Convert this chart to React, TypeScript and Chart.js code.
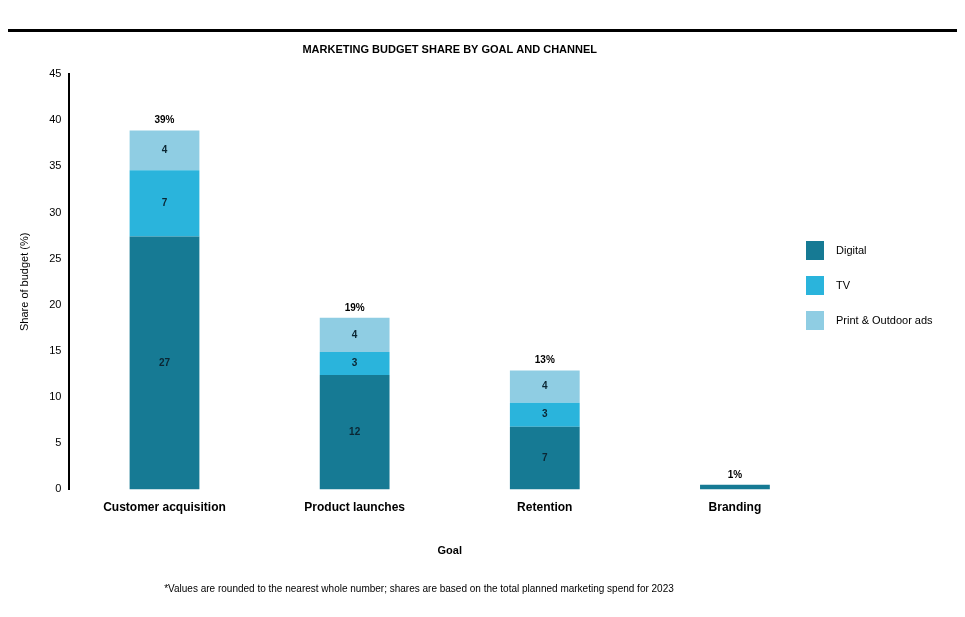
import { useEffect, useRef } from "react";
import { Chart, registerables } from "chart.js";

Chart.register(...registerables);

const FONT = "'Liberation Sans', Arial, sans-serif";

const titleText = "MARKETING BUDGET SHARE BY GOAL AND CHANNEL";
const footnoteText =
  "*Values are rounded to the nearest whole number; shares are based on the total planned marketing spend for 2023";
const xAxisTitle = "Goal";
const yAxisTitle = "Share of budget (%)";

const categories = ["Customer acquisition", "Product launches", "Retention", "Branding"];
const seriesNames = ["Digital", "TV", "Print & Outdoor ads"];
const digitalValues = [27.4, 12.4, 6.8, 0.5];
const tvValues = [7.2, 2.5, 2.6, 0];
const printValues = [4.3, 3.7, 3.5, 0];
const seriesColors = ["#167a94", "#2ab4dc", "#8fcde3"];
const yTickValues = [0, 5, 10, 15, 20, 25, 30, 35, 40, 45];

const topRule = {
  id: "topRule",
  beforeDraw(chart: any) {
    const { ctx, width } = chart;
    ctx.save();
    ctx.fillStyle = "#000";
    ctx.fillRect(0, 21, width, 3);
    ctx.restore();
  },
};

const valueLabels = {
  id: "valueLabels",
  afterDatasetsDraw(chart: any) {
    const ctx = chart.ctx;
    ctx.save();
    ctx.textAlign = "center";
    ctx.textBaseline = "middle";
    ctx.font = `bold 10px ${FONT}`;
    chart.data.datasets.forEach((ds: any, di: number) => {
      const meta = chart.getDatasetMeta(di);
      meta.data.forEach((bar: any, i: number) => {
        const v = ds.data[i];
        if (!v || v < 1) return;
        const { x, y, base } = bar.getProps(["x", "y", "base"], true);
        ctx.fillStyle = "#0b2633";
        ctx.fillText(String(Math.round(v)), x, (y + base) / 2);
      });
    });
    const yScale = chart.scales.y;
    const meta0 = chart.getDatasetMeta(0);
    ctx.font = `bold 10px ${FONT}`;
    ctx.fillStyle = "#000";
    categories.forEach((_, i) => {
      const total = chart.data.datasets.reduce((s: number, ds: any) => s + (ds.data[i] || 0), 0);
      const x = meta0.data[i].x;
      const yPix = yScale.getPixelForValue(total);
      ctx.fillText(`${Math.round(total)}%`, x, yPix - 10);
    });
    ctx.restore();
  },
};

const sideLegend = {
  id: "sideLegend",
  afterDraw(chart: any) {
    const ctx = chart.ctx;
    const x0 = 798;
    const yStart = 233;
    const gap = 35;
    ctx.save();
    ctx.textBaseline = "middle";
    ctx.textAlign = "left";
    ctx.font = `11px ${FONT}`;
    chart.data.datasets.forEach((ds: any, i: number) => {
      const y = yStart + i * gap;
      ctx.fillStyle = ds.backgroundColor;
      ctx.fillRect(x0, y, 18, 19);
      ctx.fillStyle = "#000";
      ctx.fillText(ds.label, x0 + 30, y + 10);
    });
    ctx.restore();
  },
};

export default function App() {
  const ref = useRef<HTMLCanvasElement | null>(null);

  useEffect(() => {
    if (!ref.current) return;
    const seriesData = [digitalValues, tvValues, printValues];
    const chart = new Chart(ref.current, {
      type: "bar",
      data: {
        labels: categories,
        datasets: seriesNames.map((name, i) => ({
          label: name,
          data: seriesData[i],
          backgroundColor: seriesColors[i],
          borderWidth: 0,
          categoryPercentage: 1,
          barPercentage: 0.367,
        })),
      },
      options: {
        animation: false,
        responsive: true,
        maintainAspectRatio: false,
        layout: { padding: { left: 0, right: 127, top: 0, bottom: 0 } },
        plugins: {
          legend: { display: false },
          tooltip: { enabled: false },
          title: {
            display: true,
            fullSize: false,
            text: titleText,
            color: "#000",
            font: { family: FONT, size: 11, weight: "bold" },
            padding: { top: 35, bottom: 18 },
          },
          subtitle: {
            display: true,
            position: "bottom",
            text: footnoteText,
            color: "#000",
            font: { family: FONT, size: 10 },
            padding: { top: 20, bottom: 14 },
          },
        },
        scales: {
          x: {
            stacked: true,
            grid: { display: false, drawTicks: false },
            border: { display: false },
            ticks: {
              color: "#000",
              font: { family: FONT, size: 12, weight: "bold" },
              padding: 11,
            },
            title: {
              display: true,
              text: xAxisTitle,
              color: "#000",
              font: { family: FONT, size: 11, weight: "bold" },
              padding: { top: 19, bottom: 5 },
            },
          },
          y: {
            stacked: true,
            min: yTickValues[0],
            max: yTickValues[yTickValues.length - 1],
            grid: { display: false, drawTicks: false },
            border: { display: true, color: "#000", width: 2 },
            afterBuildTicks: (scale: any) => {
              scale.ticks = yTickValues.map((v) => ({ value: v }));
            },
            ticks: {
              color: "#000",
              font: { family: FONT, size: 11 },
              padding: 8,
            },
            title: {
              display: true,
              text: yAxisTitle,
              color: "#000",
              font: { family: FONT, size: 11 },
              padding: { top: 10, bottom: 10 },
            },
          },
        },
      },
      plugins: [topRule, valueLabels, sideLegend],
    });
    return () => chart.destroy();
  }, []);

  return (
    <div style={{ position: "relative", width: 949, height: 601 }}>
      <canvas ref={ref} />
    </div>
  );
}
